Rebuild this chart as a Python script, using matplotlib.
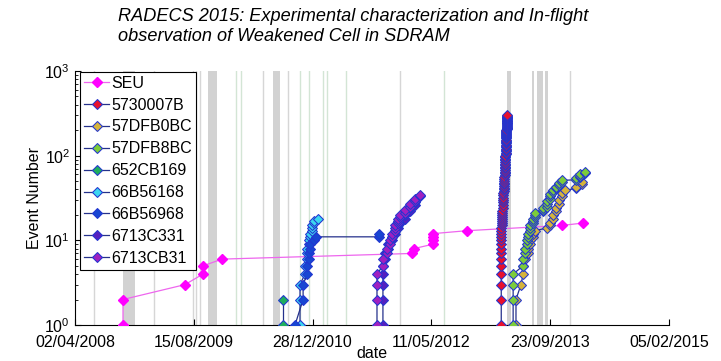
import numpy as np
import matplotlib.pyplot as plt
import matplotlib.dates as mdates

plt.rcParams['font.family'] = ['Liberation Sans', 'DejaVu Sans']

# SEU counter
seu_dates = ['2008-10-21', '2008-10-21', '2009-07-09', '2009-09-23', '2009-09-23', '2009-12-12',
             '2012-02-19', '2012-02-28', '2012-05-18', '2012-05-18', '2012-05-18', '2012-05-18',
             '2012-10-08', '2013-11-12', '2014-02-08']
seu_counts = [1, 2, 3, 4, 5, 6, 7, 8, 9, 10, 11, 12, 13, 15, 16]

# weakened cells: dates and the event numbers reached on each date
cell_names = ['5730007B', '57DFB0BC', '57DFB8BC', '652CB169', '66B56168', '66B56968', '6713C331', '6713CB31']
cell_colors = ['#e8112d', '#d6b43c', '#7ccc3a', '#1fae5e', '#3cd6f0', '#1846d2', '#5520c0', '#a020c0']

dates_5730007B = ['2013-03-01', '2013-03-05', '2013-03-09', '2013-03-14', '2013-03-18', '2013-03-22', '2013-03-26']
counts_5730007B = [[1, 2, 3, 4, 5, 6, 7, 8, 9, 10, 11, 12, 13, 14],
                   [15, 16, 17, 18, 19, 20, 21, 22],
                   [24, 26, 28, 30, 32, 34, 36],
                   [38, 40, 42, 44, 46, 48, 50, 53, 56],
                   [59, 62, 65, 68, 71, 74, 77, 80, 84, 88, 92, 96, 100],
                   [104, 108, 112, 116, 120, 125, 130, 135, 140, 145, 150, 155, 160, 165, 170,
                    175, 180, 185, 190, 195, 200],
                   [205, 210, 215, 220, 225, 230, 235, 240, 245, 250, 255, 260, 265, 270, 275,
                    280, 285, 290, 295, 300]]

dates_57DFB0BC = ['2013-05-02', '2013-05-23', '2013-06-01', '2013-06-09', '2013-06-22', '2013-06-30',
                  '2013-07-13', '2013-07-21', '2013-09-10', '2013-09-23', '2013-10-05', '2013-10-18',
                  '2013-10-30', '2013-11-12', '2013-11-24', '2014-01-10', '2014-02-04']
counts_57DFB0BC = [[1, 2], [3], [4, 5], [6], [7, 8], [9, 10], [11, 12], [13], [14], [15, 16], [18, 20],
                   [22, 24], [27, 30], [33, 36], [39], [41, 43], [46, 49]]

dates_57DFB8BC = ['2013-04-20', '2013-06-01', '2013-06-09', '2013-06-17', '2013-06-22', '2013-06-30',
                  '2013-07-13', '2013-07-21', '2013-08-24', '2013-09-10', '2013-09-23', '2013-10-05',
                  '2013-10-18', '2013-10-30', '2013-11-12', '2014-01-10', '2014-01-27', '2014-02-17']
counts_57DFB8BC = [[1, 2, 3, 4], [5, 6], [7, 8], [9, 10], [11, 12], [13, 14, 15], [16, 17, 18],
                   [19, 20, 21], [22, 23, 24], [25, 27, 29], [31, 33, 35], [37, 39], [41, 43],
                   [45, 47], [49, 51], [52, 54], [56, 58, 60], [62, 64]]

dates_652CB169 = ['2010-08-25']
counts_652CB169 = [[1, 2]]

dates_66B56168 = ['2010-11-05', '2010-11-26', '2010-12-05', '2010-12-13', '2010-12-17', '2010-12-26',
                  '2011-01-03', '2011-01-20']
counts_66B56168 = [[1, 2, 3], [4, 5], [6, 7, 8], [9, 10], [11, 12], [13, 14, 15], [16, 17], [18]]

dates_66B56968 = ['2010-10-15', '2010-11-18', '2010-12-05', '2010-12-13', '2010-12-17', '2011-01-03',
                  '2011-01-11', '2011-10-04']
counts_66B56968 = [[1], [2, 3], [4, 5], [6, 7], [8, 9], [10], [11], [11, 12]]

dates_6713C331 = ['2011-10-20', '2011-10-29', '2011-11-10', '2011-11-27', '2011-12-10', '2011-12-23',
                  '2011-12-31', '2012-01-21', '2012-02-11', '2012-03-03']
counts_6713C331 = [[1, 2, 3, 4, 5], [6, 7], [8, 9], [10, 11], [12, 13], [14, 15], [16, 17],
                   [18, 20], [22, 24], [26, 28]]

dates_6713CB31 = ['2011-09-25', '2011-10-20', '2011-11-06', '2011-11-19', '2011-11-27', '2011-12-10',
                  '2011-12-23', '2011-12-31', '2012-01-21', '2012-02-11', '2012-03-03', '2012-03-24']
counts_6713CB31 = [[1, 2, 3, 4], [5, 6], [7, 8], [9, 10], [11, 12], [13, 14, 15], [16, 17, 18],
                   [19, 20], [21, 23], [25, 27], [29, 31], [33, 34]]

cell_dates = [dates_5730007B, dates_57DFB0BC, dates_57DFB8BC, dates_652CB169,
              dates_66B56168, dates_66B56968, dates_6713C331, dates_6713CB31]
cell_counts = [counts_5730007B, counts_57DFB0BC, counts_57DFB8BC, counts_652CB169,
               counts_66B56168, counts_66B56968, counts_6713C331, counts_6713CB31]

# background periods (grey bands) and single days (thin lines)
band_starts = ['2008-10-23', '2009-10-14', '2010-07-14', '2013-03-26', '2013-07-08', '2013-07-29', '2013-09-01']
band_ends = ['2008-12-11', '2009-11-21', '2010-08-13', '2013-04-12', '2013-07-17', '2013-08-24', '2013-09-14']
grey_lines = ['2008-06-21', '2009-02-28', '2009-08-12', '2009-08-24', '2009-09-10', '2010-06-02',
              '2010-09-15', '2011-12-31', '2013-12-15']
green_lines = ['2010-02-09', '2010-03-02', '2010-11-05', '2010-12-13', '2011-02-10', '2011-02-27',
               '2011-05-18', '2012-07-03']

tick_dates = ['2008-04-02', '2009-08-15', '2010-12-28', '2012-05-11', '2013-09-23', '2015-02-05']

d64 = lambda s: np.array(s, dtype='datetime64[D]')

fig = plt.figure(figsize=(7.21, 3.61), dpi=100)
ax = fig.add_axes([75/721, 36/361, 594/721, 254/361])

for s, e in zip(band_starts, band_ends):
    ax.axvspan(d64(s), d64(e), color='#d2d2d2', lw=0, zorder=0)
for d in grey_lines:
    ax.axvline(d64(d), color='#d6d6d6', lw=1.0, zorder=0)
for d in green_lines:
    ax.axvline(d64(d), color='#d3e5d5', lw=1.0, zorder=0)

ax.plot(d64(seu_dates), seu_counts, '-', color='#ee66ee', lw=0.9, marker='D', ms=4.8,
        mfc='#ff00ff', mec='#ff00ff', label='SEU', zorder=3)

for name, col, dts, cnts in zip(cell_names, cell_colors, cell_dates, cell_counts):
    x = np.repeat(d64(dts), [len(c) for c in cnts])
    y = np.concatenate(cnts)
    ax.plot(x, y, '-', color='#25318c', lw=0.9, marker='D', ms=4.8, mfc=col,
            mec='#2236d0', mew=0.75, label=name, zorder=3)

ax.set_yscale('log')
ax.set_ylim(1, 1000)
ax.set_xlim(d64('2008-04-02'), d64('2015-02-05'))
ax.set_xticks(d64(tick_dates))
ax.xaxis.set_major_formatter(mdates.DateFormatter('%d/%m/%Y'))

for side in ['top', 'right']:
    ax.spines[side].set_visible(False)
ax.tick_params(which='both', direction='in', labelsize=11.5)
ax.tick_params(axis='x', pad=7)
ax.tick_params(which='major', length=4)
ax.tick_params(which='minor', length=2)
ax.set_xlabel('date', fontsize=11.5, labelpad=-3)
ax.set_ylabel('Event Number', fontsize=11.5, labelpad=2)

leg = ax.legend(loc='upper left', bbox_to_anchor=(0.008, 0.997), borderaxespad=0, fontsize=11.5,
                fancybox=False, framealpha=1, edgecolor='black', labelspacing=0.43,
                handlelength=1.6, handletextpad=0.15, borderpad=0.25)
leg.get_frame().set_linewidth(0.8)

fig.text(118/721, 1 - 8/361, 'RADECS 2015: Experimental characterization and In-flight\n'
         'observation of Weakened Cell in SDRAM', style='italic', fontsize=13.1, va='top',
         linespacing=1.22)

fig.savefig('out.png', dpi=100)
